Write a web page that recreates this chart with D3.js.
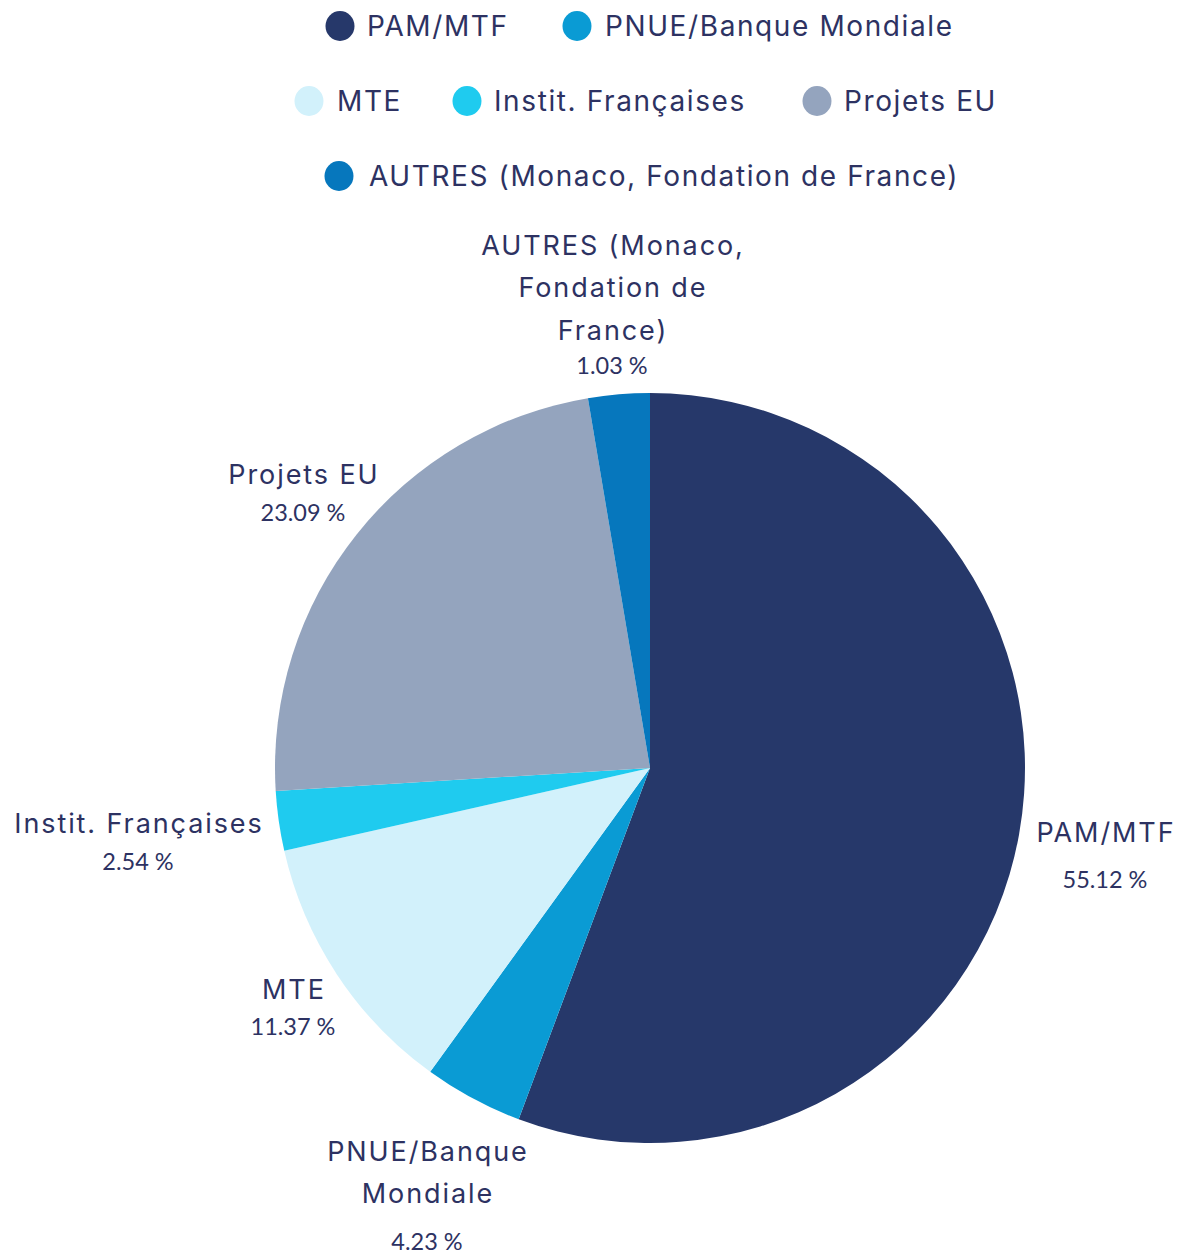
<!DOCTYPE html>
<html>
<head>
<meta charset="utf-8">
<script src="https://cdn.jsdelivr.net/npm/d3@7"></script>
<style>
  html, body { margin: 0; padding: 0; background: #ffffff; }
  svg { display: block; }
</style>
</head>
<body>
<svg id="chart" width="1186" height="1252"></svg>
<script>
// ---- data ----
const categories = ["PAM/MTF", "PNUE/Banque Mondiale", "MTE", "Instit. Françaises", "Projets EU", "AUTRES (Monaco, Fondation de France)"];
const sliceValues = [55.12, 4.23, 11.37, 2.54, 23.09, 2.62];
const percentLabels = ["55.12 %", "4.23 %", "11.37 %", "2.54 %", "23.09 %", "1.03 %"];
const labelLines = [["PAM/MTF"], ["PNUE/Banque", "Mondiale"], ["MTE"], ["Instit. Françaises"], ["Projets EU"], ["AUTRES (Monaco,", "Fondation de", "France)"]];
const colors = ["#26386a", "#0a9bd4", "#d2f1fb", "#1fcbef", "#94a4be", "#0677bd"];

// ---- layout ----
const cx = 650, cy = 768, R = 375;
const labelFont = "'Inter', 'Noto Sans', sans-serif";
const pctFont = "'Lato', 'Open Sans', sans-serif";
const textColor = "#2d3262";
const legendSpacing = 1.6, labelSpacing = 1.9;
// label anchor (center of first line) and line spacing
const labelPos = [
  {x: 1105, y: 832, lh: 42, pctGap: 48},
  {x: 427,  y: 1151, lh: 42, pctGap: 49},
  {x: 293,  y: 989, lh: 42, pctGap: 38},
  {x: 138,  y: 823, lh: 42, pctGap: 39},
  {x: 303,  y: 474, lh: 42, pctGap: 39},
  {x: 612,  y: 245, lh: 42.5, pctGap: 36}
];
const legendRows = [
  [{i: 0, cx: 340, tx: 367}, {i: 1, cx: 577, tx: 605}],
  [{i: 2, cx: 309, tx: 337}, {i: 3, cx: 467, tx: 494}, {i: 4, cx: 817, tx: 844}],
  [{i: 5, cx: 339, tx: 369}]
];
const legendY = [26, 101, 176];

const svg = d3.select("#chart");

// ---- legend ----
legendRows.forEach((row, ri) => {
  row.forEach(item => {
    svg.append("ellipse")
      .attr("cx", item.cx).attr("cy", legendY[ri]).attr("rx", 14.5).attr("ry", 15)
      .attr("fill", colors[item.i]);
    svg.append("text")
      .attr("x", item.tx).attr("y", legendY[ri])
      .attr("dy", "0.36em")
      .attr("font-family", labelFont)
      .attr("font-size", 28)
      .attr("letter-spacing", legendSpacing)
      .attr("fill", textColor)
      .text(categories[item.i]);
  });
});

// ---- pie ----
const pie = d3.pie().sort(null).value(d => d).startAngle(0).endAngle(2 * Math.PI);
const arc = d3.arc().innerRadius(0).outerRadius(R);
const arcs = pie(sliceValues);

const g = svg.append("g").attr("transform", `translate(${cx},${cy})`);
g.selectAll("path")
  .data(arcs)
  .join("path")
  .attr("d", arc)
  .attr("fill", (d, i) => colors[i]);

// ---- labels ----
arcs.forEach((a, i) => {
  const p = labelPos[i];
  const lines = labelLines[i];
  lines.forEach((ln, k) => {
    svg.append("text")
      .attr("x", p.x + labelSpacing / 2).attr("y", p.y + k * p.lh)
      .attr("dy", "0.36em")
      .attr("text-anchor", "middle")
      .attr("font-family", labelFont)
      .attr("font-size", 27)
      .attr("letter-spacing", labelSpacing)
      .attr("fill", textColor)
      .text(ln);
  });
  svg.append("text")
    .attr("x", p.x).attr("y", p.y + (lines.length - 1) * p.lh + p.pctGap)
    .attr("dy", "0.36em")
    .attr("text-anchor", "middle")
    .attr("font-family", pctFont)
    .attr("font-size", 23.5)
    .attr("fill", textColor)
    .text(percentLabels[i]);
});
</script>
</body>
</html>
